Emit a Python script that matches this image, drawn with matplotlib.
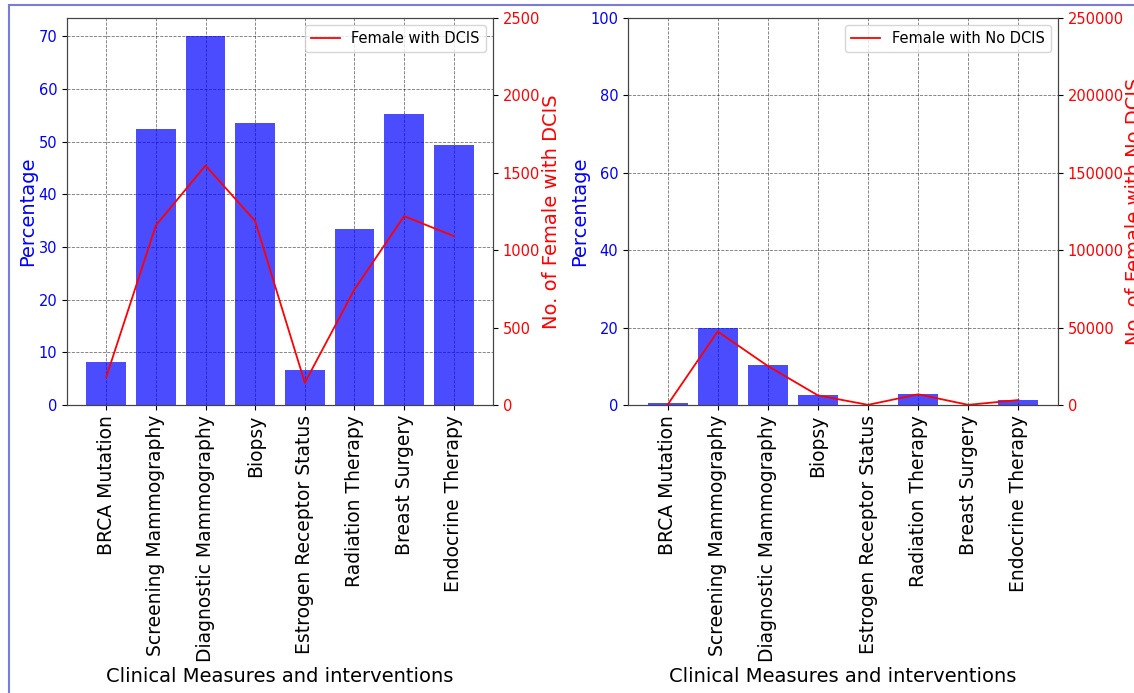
import matplotlib
matplotlib.use("Agg")
import matplotlib.pyplot as plt
from matplotlib.patches import Rectangle
import numpy as np

categories = ["BRCA Mutation", "Screening Mammography", "Diagnostic Mammography",
              "Biopsy", "Estrogen Receptor Status", "Radiation Therapy",
              "Breast Surgery", "Endocrine Therapy"]

dcis_pct = [8.2, 52.5, 70.0, 53.5, 6.6, 33.4, 55.3, 49.3]
dcis_count = [180, 1160, 1547, 1188, 144, 747, 1220, 1091]

nodcis_pct = [0.4, 20.0, 10.3, 2.6, 0.05, 2.9, 0.05, 1.4]
nodcis_count = [200, 47500, 25200, 6200, 100, 6900, 100, 3200]

fig = plt.figure(figsize=(11.34, 6.93), dpi=100)

border = Rectangle((9 / 1134, -0.1), 1.2, (693 - 5) / 693 + 0.1,
                   transform=fig.transFigure, fill=False,
                   edgecolor="#7b7bdb", linewidth=1.5)
fig.patches.append(border)

def panel(rect, pct, cnt, ymax_pct, ymax_cnt, label_cnt, legend_label):
    ax = fig.add_axes(rect)
    x = np.arange(len(categories))
    ax.bar(x, pct, color="blue", alpha=0.7, width=0.8)
    if ymax_pct is not None:
        ax.set_ylim(0, ymax_pct)
    ax.set_ylabel("Percentage", color="blue", fontsize=14, labelpad=1)
    ax.tick_params(axis="y", labelcolor="blue", labelsize=10.5)
    ax.set_xticks(x)
    ax.set_xticklabels(categories, rotation=90, fontsize=13.5)
    ax.set_xlabel("Clinical Measures and interventions", fontsize=14)
    ax.grid(True, linestyle="--", color="black", linewidth=0.6, alpha=0.55)
    ax.set_axisbelow(True)
    for s in ax.spines.values():
        s.set_color("#444444")
    ax2 = ax.twinx()
    ax2.plot(x, cnt, color="red", linewidth=1.3, label=legend_label)
    ax2.set_ylim(0, ymax_cnt)
    ax2.set_ylabel(label_cnt, color="red", fontsize=14, labelpad=1)
    ax2.tick_params(axis="y", labelcolor="red", labelsize=10.5)
    for s in ax2.spines.values():
        s.set_color("#444444")
    ax2.legend(loc="upper right", fontsize=10.5)
    return ax, ax2

panel([67 / 1134, 288 / 693, 426 / 1134, 387 / 693], dcis_pct, dcis_count,
      None, 2500, "No. of Female with DCIS", "Female with DCIS")
panel([628 / 1134, 288 / 693, 430 / 1134, 387 / 693], nodcis_pct, nodcis_count,
      100, 250000, "No. of Female with No DCIS", "Female with No DCIS")

fig.savefig("out.png", dpi=100)
